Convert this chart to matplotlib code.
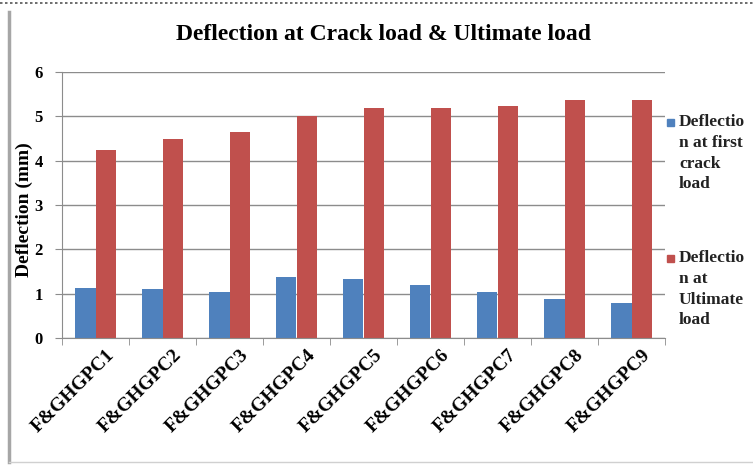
import matplotlib
matplotlib.use("Agg")
import matplotlib.pyplot as plt
import matplotlib.transforms as mtransforms
from matplotlib.lines import Line2D
from matplotlib.patches import Rectangle
import numpy as np

categories = ["F&GHGPC1", "F&GHGPC2", "F&GHGPC3", "F&GHGPC4", "F&GHGPC5",
              "F&GHGPC6", "F&GHGPC7", "F&GHGPC8", "F&GHGPC9"]
first_crack = [1.12, 1.10, 1.04, 1.38, 1.33, 1.19, 1.04, 0.89, 0.80]
ultimate = [4.25, 4.49, 4.65, 5.00, 5.19, 5.19, 5.23, 5.36, 5.36]
series_labels = ["Deflectio\nn at first\ncrack\nload",
                 "Deflectio\nn at\nUltimate\nload"]

plt.rcParams['font.family'] = ['Liberation Serif', 'DejaVu Serif']
W, H = 753, 467
fig = plt.figure(figsize=(W / 100, H / 100), dpi=100)

# outer frame of the pasted chart
fig.add_artist(Line2D([0, 1], [1 - 3 / H, 1 - 3 / H], color='#555555', lw=1.2,
                      ls=(0, (1.5, 1.5))))
fig.add_artist(Line2D([9 / W, 9 / W], [1 - 12 / H, 5 / H], color='#a6a6a6', lw=2.5))
fig.add_artist(Line2D([9 / W, 1], [5 / H, 5 / H], color='#d0d0d0', lw=1))

ax = fig.add_axes([62 / W, 1 - 338 / H, (665 - 62) / W, (338 - 72) / H])
x = np.arange(len(categories))
bw = 0.3
b1 = ax.bar(x - bw / 2, first_crack, bw, color='#4F81BD')
b2 = ax.bar(x + bw / 2, ultimate, bw, color='#C0504D')

ax.set_xlim(-0.5, len(categories) - 0.5)
ax.set_ylim(0, 6)
ax.set_yticks(range(7))
ax.yaxis.grid(True, color='#8c8c8c', lw=1)
ax.set_axisbelow(True)
for s in ['top', 'right']:
    ax.spines[s].set_visible(False)
for s in ['left', 'bottom']:
    ax.spines[s].set_color('#8c8c8c')
ax.tick_params(axis='y', length=5, color='#8c8c8c', labelsize=12, pad=9)
ax.set_xticks(np.arange(len(categories) + 1) - 0.5, minor=True)
ax.set_xticks(x)
ax.tick_params(axis='x', which='minor', length=5, color='#8c8c8c')
ax.tick_params(axis='x', which='major', length=0, labelsize=14, pad=6)
ax.set_xticklabels(categories, rotation=45, ha='right', rotation_mode='anchor',
                   fontweight='bold')
offset = mtransforms.ScaledTranslation(10 / 100, 0, fig.dpi_scale_trans)
for lab in ax.get_xticklabels():
    lab.set_transform(lab.get_transform() + offset)
for lab in ax.get_yticklabels():
    lab.set_fontweight('bold')

fig.text(24 / W, 1 - 210 / H, "Deflection (mm)", rotation=90, fontsize=14,
         fontweight='bold', ha='center', va='center')

fig.text(384 / W, 1 - 35 / H, "Deflection at Crack load & Ultimate load",
         ha='center', va='center', fontsize=17, fontweight='bold')

# legend, handles aligned to first text line
for bars, label, ytop in [(b1, series_labels[0], 114), (b2, series_labels[1], 250)]:
    fig.add_artist(Rectangle((667 / W, 1 - (ytop + 12) / H), 7 / W, 7 / H,
                             transform=fig.transFigure,
                             color=bars.patches[0].get_facecolor()))
    fig.text(679 / W, 1 - ytop / H, label, ha='left', va='top', fontsize=12.5,
             fontweight='bold', color='#222222', linespacing=1.4)

fig.savefig("out.png", dpi=100)
